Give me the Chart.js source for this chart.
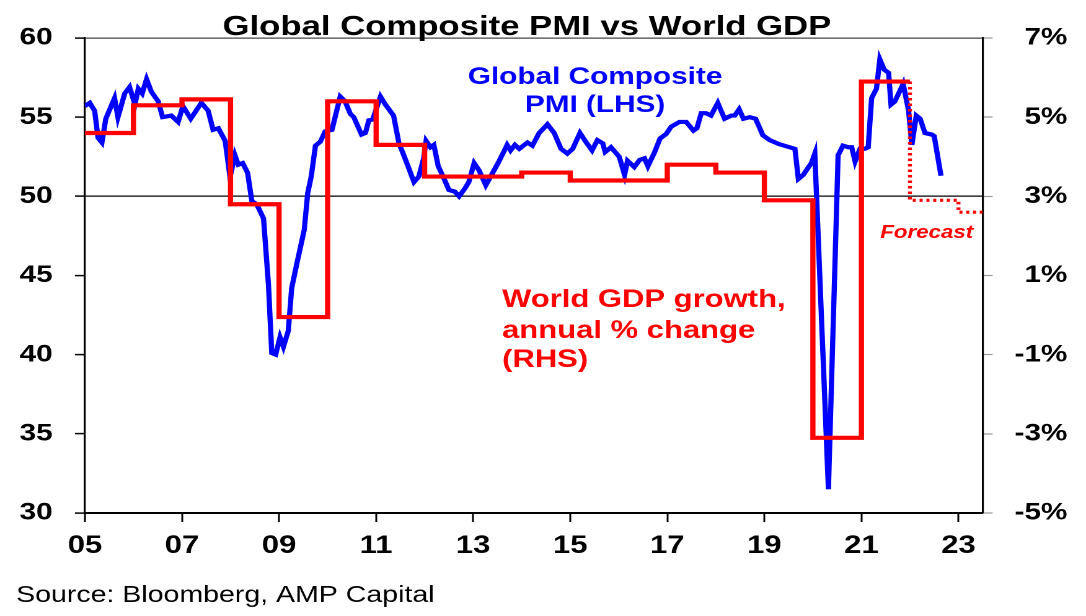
<!DOCTYPE html>
<html>
<head>
<meta charset="utf-8">
<title>Global Composite PMI vs World GDP</title>
<script src="https://cdn.jsdelivr.net/npm/chart.js@4/dist/chart.umd.min.js"></script>
<style>
  html, body { margin: 0; padding: 0; background: #fff; }
</style>
</head>
<body>
<!-- the source graphic is stretched sideways, so draw narrow and widen it with css -->
<canvas id="pmiChart" width="876" height="616" style="display:block;width:1086px;height:616px"></canvas>
<script>
// Global composite PMI, monthly (decimal year), left axis
const pmiDates = [
  2005.00, 2005.10, 2005.20, 2005.27, 2005.35, 2005.43, 2005.61, 2005.68, 2005.82, 2005.92,
  2006.03, 2006.10, 2006.18, 2006.27, 2006.37, 2006.51, 2006.60, 2006.78, 2006.92,
  2007.02, 2007.18, 2007.40, 2007.54, 2007.64, 2007.75, 2007.89, 2007.99,
  2008.09, 2008.16, 2008.25, 2008.35, 2008.44, 2008.54, 2008.68, 2008.78, 2008.85, 2008.93,
  2009.02, 2009.09, 2009.19, 2009.26, 2009.37, 2009.52, 2009.59, 2009.66, 2009.75, 2009.85, 2009.95,
  2010.09, 2010.26, 2010.36, 2010.47, 2010.54, 2010.70, 2010.78, 2010.85, 2010.93,
  2011.09, 2011.19, 2011.36, 2011.47, 2011.57, 2011.67, 2011.78, 2011.88, 2011.98,
  2012.03, 2012.12, 2012.19, 2012.28, 2012.38, 2012.50, 2012.62, 2012.71, 2012.83, 2012.91,
  2013.02, 2013.12, 2013.26, 2013.36, 2013.53, 2013.70, 2013.77, 2013.86, 2013.95,
  2014.12, 2014.22, 2014.36, 2014.53, 2014.67, 2014.81, 2014.94,
  2015.05, 2015.20, 2015.32, 2015.45, 2015.56, 2015.67, 2015.72, 2015.84,
  2016.01, 2016.12, 2016.18, 2016.32, 2016.43, 2016.53, 2016.60, 2016.74, 2016.85, 2016.98,
  2017.08, 2017.25, 2017.39, 2017.54, 2017.61, 2017.70, 2017.80, 2017.90,
  2018.04, 2018.18, 2018.32, 2018.39, 2018.48, 2018.57, 2018.70, 2018.82, 2018.97,
  2019.11, 2019.30, 2019.63, 2019.70, 2019.80, 2019.90, 2019.97,
  2020.04, 2020.32, 2020.52, 2020.62, 2020.73, 2020.80, 2020.87, 2020.97,
  2021.07, 2021.14, 2021.21, 2021.31, 2021.38, 2021.47, 2021.56, 2021.61, 2021.69, 2021.86, 2021.97,
  2022.04, 2022.13, 2022.21, 2022.31, 2022.45, 2022.50, 2022.64
];
const pmiValues = [
  55.7, 55.9, 55.4, 53.7, 53.4, 54.9, 56.2, 55.0, 56.5, 56.9,
  55.8, 56.8, 56.5, 57.4, 56.6, 56.0, 55.0, 55.1, 54.7,
  55.7, 54.9, 55.9, 55.4, 54.2, 54.3, 53.5, 51.2,
  52.6, 52.0, 52.1, 51.5, 49.7, 49.5, 48.6, 44.5, 40.1, 40.0,
  41.1, 40.5, 41.5, 44.2, 45.8, 47.9, 50.2, 51.2, 53.2, 53.45, 54.1,
  54.2, 56.3, 56.0, 55.2, 55.0, 53.9, 54.0, 54.8, 54.85,
  56.3, 55.8, 55.1, 53.35, 52.6, 51.8, 50.9, 51.25, 52.4,
  53.5, 53.1, 53.25, 51.9, 51.25, 50.4, 50.3, 50.0, 50.5, 50.9,
  52.1, 51.65, 50.7, 51.25, 52.2, 53.25, 52.9, 53.25, 53.0,
  53.4, 53.2, 54.0, 54.55, 54.0, 53.0, 52.7,
  53.0, 54.0, 53.45, 52.9, 53.55, 53.35, 52.8, 53.1,
  52.5, 51.35, 52.25, 51.85, 52.3, 52.4, 51.9, 52.8, 53.65, 53.95,
  54.4, 54.7, 54.7, 54.15, 54.3, 55.25, 55.25, 55.1,
  55.9, 54.9, 55.1, 55.1, 55.5, 54.9, 55.0, 54.9, 53.85,
  53.55, 53.3, 53.0, 51.1, 51.35, 51.8, 52.1,
  52.7, 31.5, 52.6, 53.2, 53.1, 53.1, 52.2, 53.0,
  53.0, 53.1, 56.2, 56.8, 58.65, 58.0, 57.8, 55.8, 56.0, 57.1, 55.45,
  53.25, 55.1, 54.9, 54.0, 53.9, 53.8, 51.3
];

// World GDP growth, annual % change, right axis
const gdpYears = [2005, 2006, 2007, 2008, 2009, 2010, 2011, 2012, 2013, 2014, 2015, 2016, 2017, 2018, 2019, 2020, 2021];
const gdpGrowth = [4.6, 5.3, 5.45, 2.8, -0.05, 5.4, 4.3, 3.5, 3.5, 3.6, 3.4, 3.4, 3.8, 3.6, 2.9, -3.1, 5.9];
const forecastYears = [2022, 2023, 2023.5];
const forecastGrowth = [2.9, 2.6, 2.6];

const xTickYears = [2005, 2007, 2009, 2011, 2013, 2015, 2017, 2019, 2021, 2023];

const FONT = "'Liberation Sans', Arial, sans-serif";
Chart.defaults.font.family = FONT;
Chart.defaults.color = "#000";

const pmiPoints = pmiDates.map((d, i) => ({ x: d, y: pmiValues[i] }));
const gdpPoints = gdpYears.map((d, i) => ({ x: d, y: gdpGrowth[i] }));
const lastGdp = gdpGrowth[gdpGrowth.length - 1];
gdpPoints.push({ x: forecastYears[0], y: lastGdp }); // close the last year
const forecastPoints = [{ x: forecastYears[0], y: lastGdp }].concat(
  forecastYears.map((d, i) => ({ x: d, y: forecastGrowth[i] }))
);

// text labels drawn on top of the plot
const notes = {
  id: "notes",
  afterDraw(chart) {
    const ctx = chart.ctx;
    ctx.save();
    ctx.textBaseline = "alphabetic";

    ctx.fillStyle = "#000";
    ctx.textAlign = "center";
    ctx.font = "bold 28px " + FONT;
    ctx.fillText("Global Composite PMI vs World GDP", 425, 35);

    ctx.textAlign = "left";
    ctx.font = "23px " + FONT;
    ctx.fillText("Source: Bloomberg, AMP Capital", 13, 602);

    ctx.fillStyle = "#0000FF";
    ctx.textAlign = "center";
    ctx.font = "bold 24px " + FONT;
    ctx.fillText("Global Composite", 480, 84);
    ctx.fillText("PMI (LHS)", 480, 112);

    ctx.fillStyle = "#FF0000";
    ctx.textAlign = "left";
    ctx.font = "bold 25px " + FONT;
    ctx.fillText("World GDP growth,", 405, 307);
    ctx.fillText("annual % change", 405, 338);
    ctx.fillText("(RHS)", 405, 367);

    ctx.font = "italic bold 18px " + FONT;
    ctx.fillText("Forecast", 710, 238);
    ctx.restore();
  }
};

const ctx = document.getElementById("pmiChart").getContext("2d");
const pmiChart = new Chart(ctx, {
  type: "line",
  data: {
    datasets: [
      {
        label: "World GDP growth",
        data: gdpPoints,
        yAxisID: "y1",
        borderColor: "#FF0000",
        borderWidth: 4.2,
        stepped: "before",
        pointRadius: 0,
        fill: false,
        order: 0
      },
      {
        label: "Forecast",
        data: forecastPoints,
        yAxisID: "y1",
        borderColor: "#FF0000",
        borderWidth: 3.2,
        borderDash: [2.5, 3],
        stepped: "before",
        pointRadius: 0,
        fill: false,
        order: 0
      },
      {
        label: "Global Composite PMI",
        data: pmiPoints,
        yAxisID: "y",
        borderColor: "#0000FF",
        borderWidth: 4.2,
        pointRadius: 0,
        tension: 0,
        fill: false,
        order: 1
      }
    ]
  },
  options: {
    responsive: false,
    devicePixelRatio: 2,
    animation: false,
    layout: { padding: { top: 38, right: 15, bottom: 0, left: 0 } },
    plugins: {
      legend: { display: false },
      tooltip: { enabled: false },
      title: { display: false }
    },
    scales: {
      x: {
        type: "linear",
        min: 2005,
        max: 2023.5,
        afterBuildTicks: (scale) => {
          scale.ticks = xTickYears.map((v) => ({ value: v }));
        },
        afterFit: (scale) => { scale.height = 103; },
        ticks: {
          autoSkip: false,
          maxRotation: 0,
          padding: 9,
          font: { size: 25, weight: "bold" },
          callback: (v) => String(v).slice(2)
        },
        grid: { drawOnChartArea: false, tickLength: 9, tickColor: "#000", tickWidth: 1.5 },
        border: { color: "#000", width: 2 }
      },
      y: {
        position: "left",
        min: 30,
        max: 60,
        afterFit: (scale) => { scale.width = 68.5; },
        ticks: {
          stepSize: 5,
          padding: 18,
          font: { size: 24, weight: "bold" }
        },
        grid: {
          color: (c) => {
            if (c.tick && c.tick.value === 50) return "#000";
            if (c.tick && c.tick.value === 60) return "#444";
            return "rgba(0,0,0,0)";
          },
          lineWidth: 1.2,
          tickLength: 8,
          tickColor: "#000",
          tickWidth: 1.5
        },
        border: { color: "#000", width: 1.6 }
      },
      y1: {
        position: "right",
        min: -5,
        max: 7,
        afterFit: (scale) => { scale.width = 68.3; },
        ticks: {
          stepSize: 2,
          crossAlign: "far",
          font: { size: 24, weight: "bold" },
          callback: (v) => v + "%"
        },
        grid: { drawOnChartArea: false, tickLength: 8, tickColor: "#999", tickWidth: 1.2 },
        border: { color: "#000", width: 1.6 }
      }
    }
  },
  plugins: [notes]
});
</script>
</body>
</html>
